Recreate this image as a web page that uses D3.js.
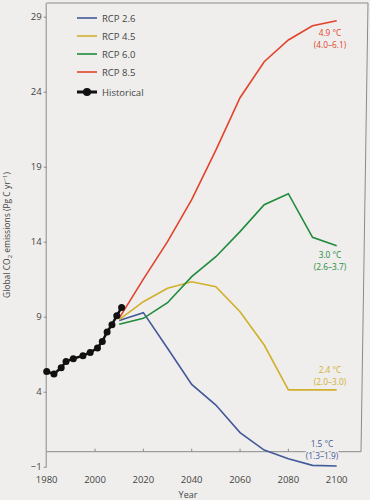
<!DOCTYPE html>
<html>
<head>
<meta charset="utf-8">
<script src="https://cdn.jsdelivr.net/npm/d3@7"></script>
<style>
	body { margin: 0; background: #efeeec; }
	svg { display: block; font-family: 'Open Sans', sans-serif; }
</style>
</head>
<body>
<div id="chart"></div>
<script>
// data
var histYears = [1980, 1983, 1986, 1988, 1991, 1995, 1998, 2001, 2003, 2005, 2007, 2009, 2011];
var histValues = [5.35, 5.18, 5.6, 6.02, 6.2, 6.4, 6.62, 6.91, 7.35, 7.98, 8.47, 9.07, 9.62];

var rcpYears = [2010, 2020, 2030, 2040, 2050, 2060, 2070, 2080, 2090, 2100];
var rcp26 = [8.75, 9.27, 6.9, 4.49, 3.11, 1.27, 0.11, -0.47, -0.91, -0.95];
var rcp45 = [8.8, 10.0, 10.89, 11.33, 11.0, 9.33, 7.11, 4.12, 4.12, 4.12];
var rcp60 = [8.5, 8.89, 9.93, 11.67, 13.0, 14.67, 16.47, 17.2, 14.29, 13.73];
var rcp85 = [8.9, 11.5, 14.0, 16.8, 20.1, 23.6, 26.0, 27.45, 28.4, 28.73];

var seriesNames = ['RCP 2.6', 'RCP 4.5', 'RCP 6.0', 'RCP 8.5'];
var seriesColors = ['#42599a', '#d1b02c', '#1f8b3b', '#e2432b'];
var tempLabels = ['1.5 °C', '2.4 °C', '3.0 °C', '4.9 °C'];
var rangeLabels = ['(1.3–1.9)', '(2.0–3.0)', '(2.6–3.7)', '(4.0–6.1)'];
var labelPos = [[322, 444], [330, 370], [330, 255], [330, 33]];

var xTicks = [1980, 2000, 2020, 2040, 2060, 2080, 2100];
var yTicks = [-1, 4, 9, 14, 19, 24, 29];

var width = 370, height = 500;
var bg = '#efeeec', axisCol = '#8a8a8a', textCol = '#444';

var svg = d3.select('#chart').append('svg')
	.attr('width', width)
	.attr('height', height);

var x = d3.scaleLinear().domain([1980, 2100]).range([46.7, 336.7]);
var y = d3.scaleLinear().domain([-1, 29]).range([466.7, 16.7]);

// frame (top, right, bottom at zero)
svg.append('path')
	.attr('d', 'M' + x(1980) + ',3 L368,3 L361,' + y(0) + ' L' + x(1980) + ',' + y(0))
	.attr('fill', 'none')
	.attr('stroke', axisCol)
	.attr('stroke-width', 1);

// x ticks on the zero line
svg.append('g')
	.selectAll('line')
	.data(xTicks.slice(1, -1))
	.enter()
	.append('line')
	.attr('x1', function(d) { return x(d); })
	.attr('x2', function(d) { return x(d); })
	.attr('y1', y(0))
	.attr('y2', y(0) - 3)
	.attr('stroke', axisCol);

svg.append('g')
	.selectAll('text')
	.data(xTicks)
	.enter()
	.append('text')
	.attr('x', function(d) { return x(d); })
	.attr('y', 483)
	.attr('text-anchor', 'middle')
	.attr('font-size', 9.5)
	.attr('fill', textCol)
	.text(function(d) { return d; });

svg.append('text')
	.attr('x', 188)
	.attr('y', 498)
	.attr('text-anchor', 'middle')
	.attr('font-size', 9)
	.attr('fill', textCol)
	.text('Year');

// y axis
var yAxis = d3.axisLeft(y).tickValues(yTicks).tickSize(3).tickPadding(2);
var gy = svg.append('g')
	.attr('transform', 'translate(' + x(1980) + ',0)')
	.call(yAxis);
gy.select('.domain').attr('stroke', axisCol).attr('d', 'M-0.5,3V' + y(-1));
gy.selectAll('.tick line').attr('stroke', axisCol);
gy.selectAll('.tick text')
	.attr('font-family', 'Open Sans, sans-serif')
	.attr('font-size', 9.5)
	.attr('fill', textCol);

var yLab = svg.append('text')
	.attr('transform', 'translate(10,235) rotate(-90)')
	.attr('text-anchor', 'middle')
	.attr('font-size', 8.5)
	.attr('fill', textCol);
yLab.append('tspan').text('Global CO');
yLab.append('tspan').attr('font-size', 6).attr('dy', 2).text('2');
yLab.append('tspan').attr('dy', -2).text(' emissions (Pg C yr');
yLab.append('tspan').attr('font-size', 6).attr('dy', -3).text('−1');
yLab.append('tspan').attr('dy', 3).text(')');

// scenario lines
var line = d3.line()
	.x(function(d) { return x(d[0]); })
	.y(function(d) { return y(d[1]); });

var rcpSeries = [rcp26, rcp45, rcp60, rcp85];
var pairs = function(vals) {
	return rcpYears.map(function(yr, i) { return [yr, vals[i]]; });
};

svg.append('g')
	.selectAll('path')
	.data(rcpSeries)
	.enter()
	.append('path')
	.attr('d', function(d) { return line(pairs(d)); })
	.attr('fill', 'none')
	.attr('stroke', function(d, i) { return seriesColors[i]; })
	.attr('stroke-width', 1.6);

// historical
var hist = histYears.map(function(yr, i) { return [yr, histValues[i]]; });
svg.append('path')
	.attr('d', line(hist))
	.attr('fill', 'none')
	.attr('stroke', '#111')
	.attr('stroke-width', 2.5);
svg.append('g')
	.selectAll('circle')
	.data(hist)
	.enter()
	.append('circle')
	.attr('cx', function(d) { return x(d[0]); })
	.attr('cy', function(d) { return y(d[1]); })
	.attr('r', 3.5)
	.attr('fill', '#111');

// end labels, two lines each
var lab = svg.append('g')
	.selectAll('g')
	.data(seriesNames)
	.enter()
	.append('g');
lab.append('text')
	.attr('x', function(d, i) { return labelPos[i][0]; })
	.attr('y', function(d, i) { return labelPos[i][1] + 2.5; })
	.attr('text-anchor', 'middle')
	.attr('font-size', 8.3)
	.attr('fill', function(d, i) { return seriesColors[i]; })
	.attr('stroke', bg)
	.attr('stroke-width', 3)
	.attr('paint-order', 'stroke')
	.text(function(d, i) { return tempLabels[i]; });
lab.append('text')
	.attr('x', function(d, i) { return labelPos[i][0]; })
	.attr('y', function(d, i) { return labelPos[i][1] + 14.5; })
	.attr('text-anchor', 'middle')
	.attr('font-size', 8.3)
	.attr('fill', function(d, i) { return seriesColors[i]; })
	.attr('stroke', bg)
	.attr('stroke-width', 3)
	.attr('paint-order', 'stroke')
	.text(function(d, i) { return rangeLabels[i]; });

// legend
var legend = svg.append('g');
var legRows = legend.selectAll('g')
	.data(seriesNames.concat(['Historical']))
	.enter()
	.append('g')
	.attr('transform', function(d, i) { return 'translate(77,' + (i < 4 ? 18 + i * 18 : 92) + ')'; });
legRows.append('line')
	.attr('x1', 0)
	.attr('x2', 20)
	.attr('stroke', function(d, i) { return i < 4 ? seriesColors[i] : '#111'; })
	.attr('stroke-width', function(d, i) { return i < 4 ? 1.6 : 3; });
legRows.filter(function(d, i) { return i == 4; })
	.append('circle')
	.attr('cx', 10)
	.attr('r', 4)
	.attr('fill', '#111');
legRows.append('text')
	.attr('x', 25)
	.attr('y', 3.5)
	.attr('font-size', 9.5)
	.attr('fill', textCol)
	.text(function(d) { return d; });
</script>
</body>
</html>
